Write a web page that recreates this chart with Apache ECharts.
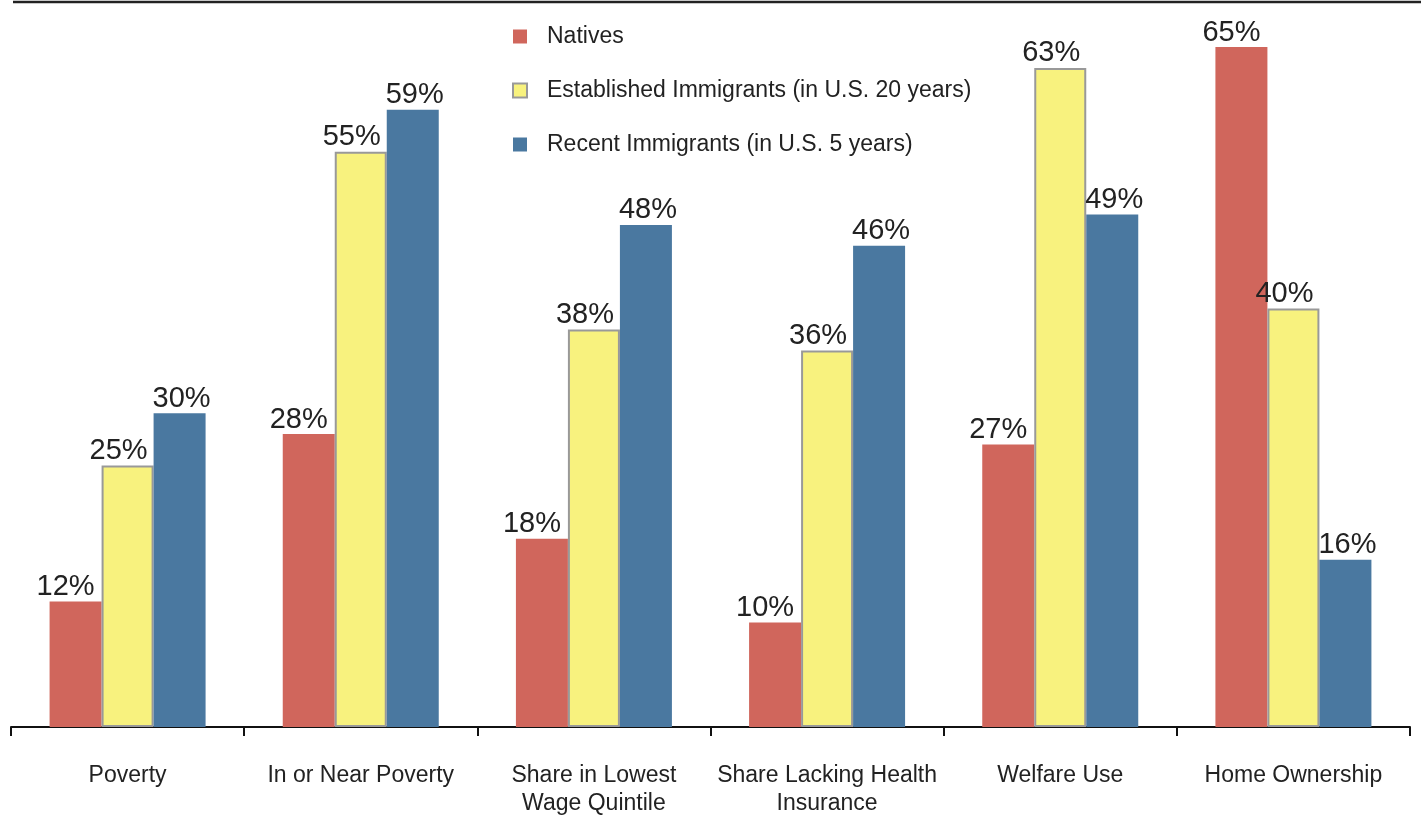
<!DOCTYPE html>
<html><head><meta charset="utf-8">
<script src="https://cdn.jsdelivr.net/npm/echarts@6/dist/echarts.min.js"></script>
<style>html,body{margin:0;padding:0;background:#fff}#c{width:1421px;height:818px}</style>
</head><body><div id="c"></div>
<script>
const categories = ['Poverty', 'In or Near Poverty', 'Share in Lowest\nWage Quintile', 'Share Lacking Health\nInsurance', 'Welfare Use', 'Home Ownership'];
const natives = [12, 28, 18, 10, 27, 65];
const established = [25, 55, 38, 36, 63, 40];
const recent = [30, 59, 48, 46, 49, 16];
const seriesNames = ['Natives', 'Established Immigrants (in U.S. 20 years)', 'Recent Immigrants (in U.S. 5 years)'];

const font = '"Liberation Sans", Arial, sans-serif';
const chart = echarts.init(document.getElementById('c'));
function lbl(dx) {
  return { show: true, position: 'top', distance: 0, offset: [dx, 0], formatter: '{c}%',
    fontFamily: font, fontSize: 29, color: '#222' };
}
chart.setOption({
  animation: false,
  grid: { left: 11, right: 11, top: 0, bottom: 90 },
  legend: {
    orient: 'vertical', left: 507, top: 20, itemWidth: 14, itemHeight: 14, itemGap: 31, icon: 'rect',
    textStyle: { fontFamily: font, fontSize: 23, color: '#222', padding: [0, 0, 0, 15] },
    data: seriesNames
  },
  xAxis: {
    type: 'category', data: categories,
    axisLine: { lineStyle: { color: '#111', width: 2 } },
    axisTick: { show: true, length: 9, lineStyle: { color: '#111', width: 2 } },
    axisLabel: { margin: 35, fontFamily: font, fontSize: 23, lineHeight: 28, color: '#222', verticalAlign: 'top', interval: 0 }
  },
  yAxis: { type: 'value', min: 0, max: 69.5, show: false, splitLine: { show: false } },
  graphic: [{ type: 'line', shape: { x1: 13, y1: 2, x2: 1421, y2: 2 }, style: { stroke: '#222', lineWidth: 2.5 } }],
  series: [
    { name: seriesNames[0], type: 'bar', data: natives, barWidth: 52, barGap: '0%',
      itemStyle: { color: '#D0665C' }, label: lbl(-10) },
    { name: seriesNames[1], type: 'bar', data: established, barWidth: 52,
      itemStyle: { color: '#F8F27E', borderColor: '#999', borderWidth: 2 }, label: lbl(-9) },
    { name: seriesNames[2], type: 'bar', data: recent, barWidth: 52,
      itemStyle: { color: '#4A78A0' }, label: lbl(2) }
  ]
});
</script></body></html>
